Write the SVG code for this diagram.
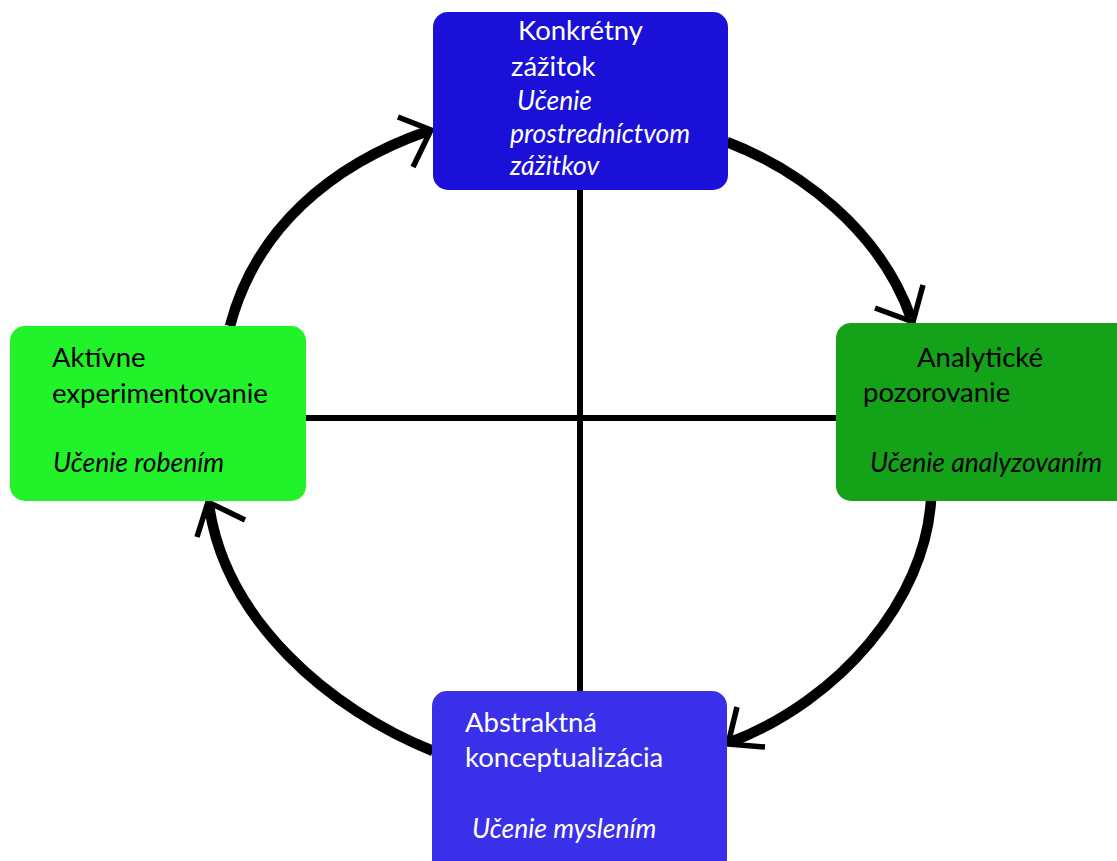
<svg xmlns="http://www.w3.org/2000/svg" width="1117" height="861" viewBox="0 0 1117 861">
<style>
.t{font-family:Lato,"Open Sans","Liberation Sans",sans-serif;font-size:27.5px}
.i{font-style:italic;font-size:26.5px}
.w{fill:#ffffff}
.k{fill:#000000}
.arc{fill:none;stroke:#000;stroke-width:10.5;stroke-linecap:butt}
.head{fill:none;stroke:#000;stroke-width:5.5;stroke-linecap:butt;stroke-linejoin:miter}
.ax{fill:none;stroke:#000;stroke-width:6}
</style>
<rect width="1117" height="861" fill="#ffffff"/>
<g id="connectors">
<line class="ax" x1="580" y1="190" x2="580" y2="691"/>
<line class="ax" x1="306" y1="418" x2="836" y2="418"/>
<path class="arc" d="M230 326 C255 230 330 165 428 131"/>
<path class="head" d="M398 117 L431 130 L413 167"/>
<path class="arc" d="M727 142 C800 170 880 230 911 318"/>
<path class="head" d="M875 308 L913 322 L923 285"/>
<path class="arc" d="M931 500 C925 600 840 700 731 742"/>
<path class="head" d="M737 707 L728 744 L765 747"/>
<path class="arc" d="M433 751 C330 710 225 620 209 505"/>
<path class="head" d="M197 537 L208 502 L245 520"/>
</g>
<g id="node-konkretny">
<rect x="433" y="12" width="295" height="178" rx="15" fill="#1a10d8"/>
<text class="t w" x="518" y="40">Konkrétny</text>
<text class="t w" x="511" y="76">zážitok</text>
<text class="t w i" x="517" y="110">Učenie</text>
<text class="t w i" x="510" y="143">prostredníctvom</text>
<text class="t w i" x="510" y="175">zážitkov</text>
</g>
<g id="node-analyticke">
<rect x="836" y="323" width="300" height="178" rx="15" fill="#14a318"/>
<text class="t k" x="917" y="367">Analytické</text>
<text class="t k" x="863" y="402">pozorovanie</text>
<text class="t k i" x="870" y="472">Učenie analyzovaním</text>
</g>
<g id="node-abstraktna">
<rect x="432" y="691" width="295" height="190" rx="15" fill="#3a30ea"/>
<text class="t w" x="465" y="732">Abstraktná</text>
<text class="t w" x="465" y="767">konceptualizácia</text>
<text class="t w i" x="472" y="838">Učenie myslením</text>
</g>
<g id="node-aktivne">
<rect x="10" y="326" width="296" height="175" rx="15" fill="#22f22a"/>
<text class="t k" x="52" y="367">Aktívne</text>
<text class="t k" x="52" y="403">experimentovanie</text>
<text class="t k i" x="53" y="472">Učenie robením</text>
</g>
</svg>
